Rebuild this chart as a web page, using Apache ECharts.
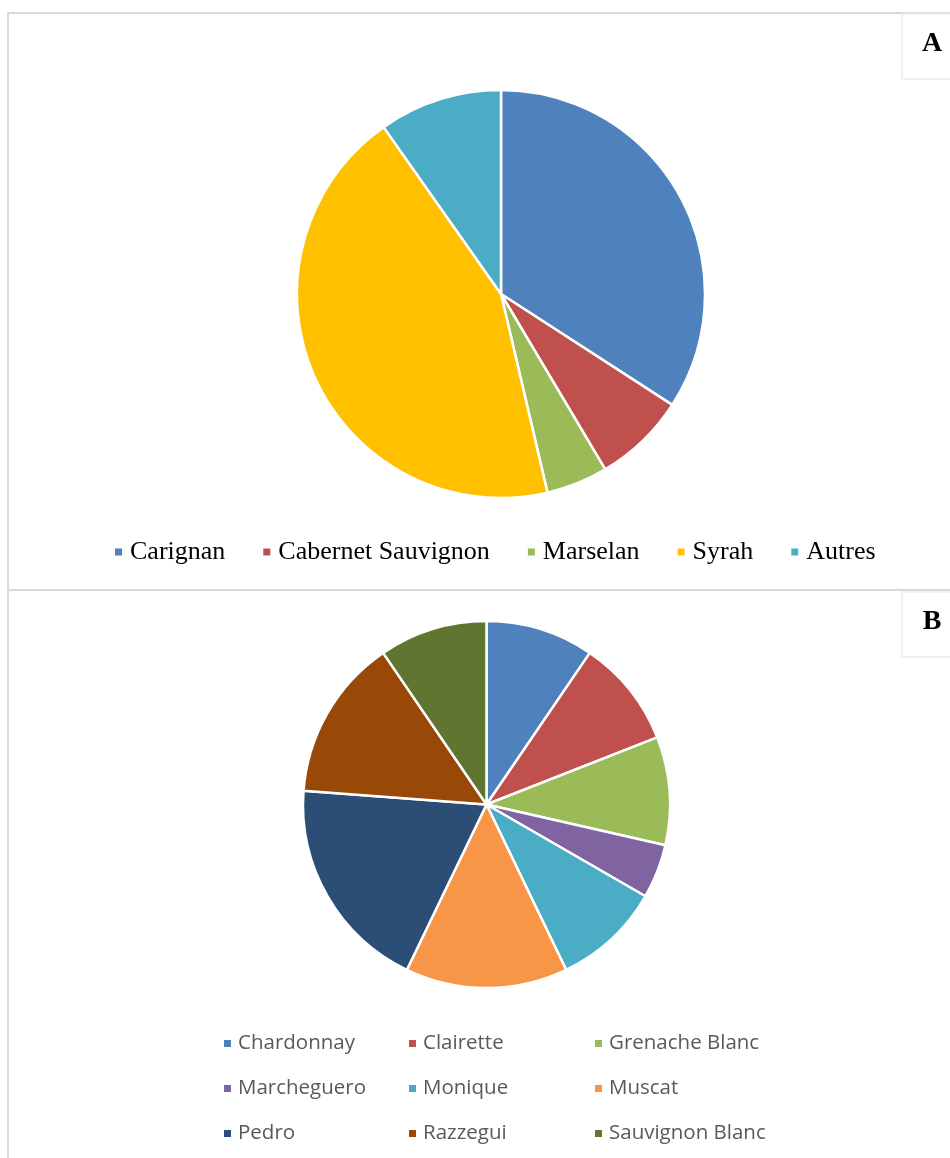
<!DOCTYPE html>
<html>
<head>
<meta charset="utf-8">
<script src="https://cdn.jsdelivr.net/npm/echarts@6/dist/echarts.min.js"></script>
<style>
  html, body { margin: 0; padding: 0; background: #ffffff; }
  #chart { width: 950px; height: 1158px; }
</style>
</head>
<body>
<div id="chart"></div>
<script>
// Panel A: red grape varieties (counts)
const redVarieties = ['Carignan', 'Cabernet Sauvignon', 'Marselan', 'Syrah', 'Autres'];
const redCounts = [14, 3, 2, 18, 4];
const redColors = ['#4F81BD', '#C0504D', '#9BBB59', '#FFC000', '#4BACC6'];

// Panel B: white grape varieties (counts)
const whiteVarieties = ['Chardonnay', 'Clairette', 'Grenache Blanc', 'Marcheguero', 'Monique',
  'Muscat', 'Pedro', 'Razzegui', 'Sauvignon Blanc'];
const whiteCounts = [2, 2, 2, 1, 2, 3, 4, 3, 2];
const whiteColors = ['#4F81BD', '#C0504D', '#9BBB59', '#8064A2', '#4BACC6',
  '#F79646', '#2C4D75', '#984807', '#5F7530'];

const panelLabels = ['A', 'B'];

const chart = echarts.init(document.getElementById('chart'), null, { renderer: 'canvas' });

const toData = (names, vals, colors) =>
  names.map((n, i) => ({ name: n, value: vals[i], itemStyle: { color: colors[i] } }));

const pieBase = {
  type: 'pie',
  startAngle: 90,
  clockwise: true,
  label: { show: false },
  labelLine: { show: false },
  emphasis: { disabled: true },
  itemStyle: { borderColor: '#ffffff', borderWidth: 2.5 },
  animation: false
};

// panel B legend laid out as three columns of three
const whiteColumns = [0, 1, 2].map(c => whiteVarieties.filter((_, i) => i % 3 === c));
const whiteColumnLefts = [222, 407, 593];

const legends = [
  {
    data: redVarieties,
    left: 113,
    top: 539,
    padding: 0,
    orient: 'horizontal',
    icon: 'rect',
    itemWidth: 9,
    itemHeight: 9,
    itemGap: 36,
    selectedMode: false,
    textStyle: {
      fontFamily: '"Liberation Serif", "Times New Roman", serif',
      fontSize: 26,
      color: '#000000',
      padding: [0, 0, 0, 2]
    }
  }
].concat(whiteColumns.map((col, c) => ({
  data: col,
  left: whiteColumnLefts[c],
  top: 1033,
  padding: 0,
  orient: 'vertical',
  icon: 'rect',
  itemWidth: 9,
  itemHeight: 9,
  itemGap: 24,
  selectedMode: false,
  textStyle: {
    fontFamily: '"Open Sans", "Noto Sans", sans-serif',
    fontSize: 20.5,
    lineHeight: 21,
    color: '#595959',
    padding: [0, 0, 0, 1]
  }
})));

const option = {
  backgroundColor: '#ffffff',
  animation: false,
  legend: legends,
  graphic: [
    // panel frames
    { type: 'rect', shape: { x: 8, y: 13, width: 960, height: 577 },
      style: { fill: 'none', stroke: '#d9d9d9', lineWidth: 2 }, z: 0 },
    { type: 'rect', shape: { x: 8, y: 590, width: 960, height: 600 },
      style: { fill: 'none', stroke: '#d9d9d9', lineWidth: 2 }, z: 0 },
    // panel tag boxes
    { type: 'rect', shape: { x: 902, y: 14, width: 60, height: 65 },
      style: { fill: '#ffffff', stroke: '#ecebe6', lineWidth: 1.5 }, z: 1 },
    { type: 'rect', shape: { x: 902, y: 592, width: 60, height: 65 },
      style: { fill: '#ffffff', stroke: '#ecebe6', lineWidth: 1.5 }, z: 1 },
    { type: 'text', x: 932, y: 44, z: 2,
      style: { text: panelLabels[0], fontFamily: '"Liberation Serif", "Times New Roman", serif',
        fontWeight: 'bold', fontSize: 28, fill: '#000000', align: 'center', verticalAlign: 'middle' } },
    { type: 'text', x: 932, y: 622, z: 2,
      style: { text: panelLabels[1], fontFamily: '"Liberation Serif", "Times New Roman", serif',
        fontWeight: 'bold', fontSize: 28, fill: '#000000', align: 'center', verticalAlign: 'middle' } }
  ],
  series: [
    Object.assign({}, pieBase, {
      name: 'Cépages rouges',
      center: [501, 294],
      radius: 204,
      data: toData(redVarieties, redCounts, redColors)
    }),
    Object.assign({}, pieBase, {
      name: 'Cépages blancs',
      center: [486.5, 804.5],
      radius: 183.5,
      data: toData(whiteVarieties, whiteCounts, whiteColors)
    })
  ]
};

chart.setOption(option);
</script>
</body>
</html>
